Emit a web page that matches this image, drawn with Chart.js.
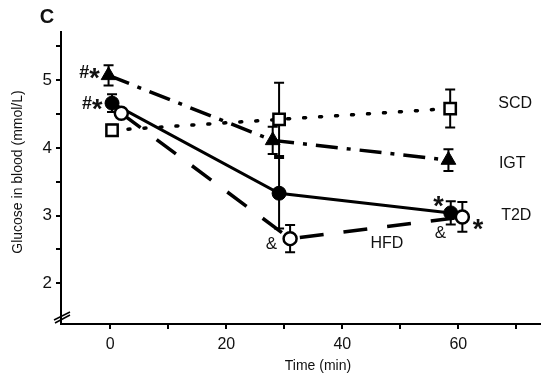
<!DOCTYPE html>
<html>
  <script src="https://cdn.jsdelivr.net/npm/chart.js@4.4.0/dist/chart.umd.min.js"></script>
  <style>
    body { margin: 0; background: #fff; }
    #wrap { width: 550px; height: 381px; }
  </style>
  <body>
    <div id="wrap"><canvas id="myChart"></canvas></div>

    <script>
      // values (time in min, glucose in mmol/L)
      let igtX = [-0.3, 28, 58.3];
      let igtY = [5.07, 4.11, 3.82];
      let igtErr = [0.15, 0.2, 0.16];

      let scdX = [0.3, 29.1, 58.6];
      let scdY = [4.26, 4.42, 4.58];
      let scdErr = [0.08, 0.54, 0.28];

      let t2dX = [0.3, 29.1, 58.7];
      let t2dY = [4.66, 3.33, 3.04];
      let t2dErr = [0.13, 0.52, 0.17];

      let hfdX = [1.9, 31, 60.7];
      let hfdY = [4.51, 2.66, 2.98];
      let hfdErr = [0.06, 0.2, 0.22];

      let xTicks = [0, 10, 20, 30, 40, 50, 60, 70];
      let yTicks = [2, 2.5, 3, 3.5, 4, 4.5, 5, 5.5];

      // group names at the right / signif. marks
      let labelText = ["SCD", "IGT", "T2D", "HFD"];
      let labelX = [69.8, 69.3, 70, 47.7];
      let labelY = [4.65, 3.77, 3.0, 2.59];

      let markText = ["#*", "#*", "&", "*", "&", "*"];
      let markX = [-3.6, -3.1, 27.8, 56.6, 56.9, 63.4];
      let markY = [5.12, 4.66, 2.59, 3.23, 2.76, 2.89];

      const FONT = "'Liberation Sans', Arial, sans-serif";

      function pts(xs, ys) {
        return xs.map((x, i) => ({ x: x, y: ys[i] }));
      }

      let errSets = [
        { x: hfdX, y: hfdY, e: hfdErr },
        { x: t2dX, y: t2dY, e: t2dErr },
        { x: igtX, y: igtY, e: igtErr },
        { x: scdX, y: scdY, e: scdErr },
      ];

      const errorBars = {
        id: "errorBars",
        beforeDatasetsDraw(chart) {
          const ctx = chart.ctx;
          const xs = chart.scales.x, ys = chart.scales.y;
          ctx.save();
          ctx.strokeStyle = "#000";
          ctx.lineWidth = 2;
          errSets.forEach((s) => {
            for (let i = 0; i < s.x.length; i++) {
              let px = xs.getPixelForValue(s.x[i]);
              let top = ys.getPixelForValue(s.y[i] + s.e[i]);
              let bot = ys.getPixelForValue(s.y[i] - s.e[i]);
              ctx.beginPath();
              ctx.moveTo(px, top); ctx.lineTo(px, bot);
              ctx.moveTo(px - 5, top); ctx.lineTo(px + 5, top);
              ctx.moveTo(px - 5, bot); ctx.lineTo(px + 5, bot);
              ctx.stroke();
            }
          });
          ctx.restore();
        },
      };

      // draws a mark; '*' gets a bigger bold glyph dropped onto the middle line
      function drawMark(ctx, text, cx, cy) {
        let parts = text.split("").map((c) => {
          let f = c === "*" ? "bold 27px " + FONT : (c === "#" ? "bold 18px " + FONT : "17px " + FONT);
          ctx.font = f;
          return { c: c, f: f, w: ctx.measureText(c).width };
        });
        let total = parts.reduce((a, p) => a + p.w, 0);
        let x = cx - total / 2;
        ctx.textAlign = "left";
        ctx.textBaseline = "alphabetic";
        parts.forEach((p) => {
          ctx.font = p.f;
          let base = p.c === "*" ? cy + 15 : cy + 6;
          ctx.fillText(p.c, x, base);
          x += p.w;
        });
      }

      const extras = {
        id: "extras",
        afterDraw(chart) {
          const ctx = chart.ctx;
          const xs = chart.scales.x, ys = chart.scales.y;
          const area = chart.chartArea;
          ctx.save();
          ctx.fillStyle = "#111";
          ctx.textAlign = "center";
          ctx.textBaseline = "middle";

          ctx.font = "16px " + FONT;
          for (let i = 0; i < labelText.length; i++) {
            ctx.fillText(labelText[i], xs.getPixelForValue(labelX[i]), ys.getPixelForValue(labelY[i]));
          }
          for (let i = 0; i < markText.length; i++) {
            drawMark(ctx, markText[i], xs.getPixelForValue(markX[i]), ys.getPixelForValue(markY[i]));
          }

          // panel letter
          ctx.textAlign = "center";
          ctx.textBaseline = "middle";
          ctx.font = "bold 20px " + FONT;
          ctx.fillText("C", 47, 17);

          // axis titles
          ctx.font = "14px " + FONT;
          ctx.fillText("Time (min)", 318, 366);
          ctx.save();
          ctx.translate(18, 172);
          ctx.rotate(-Math.PI / 2);
          ctx.fillText("Glucose in blood (mmol/L)", 0, 0);
          ctx.restore();

          // axis break
          ctx.strokeStyle = "#000";
          ctx.lineWidth = 1.5;
          let l = area.left, b = area.bottom;
          ctx.beginPath();
          ctx.moveTo(l - 7, b - 4); ctx.lineTo(l + 9, b - 12);
          ctx.moveTo(l - 6, b - 1); ctx.lineTo(l + 9, b - 9);
          ctx.stroke();
          ctx.restore();
        },
      };

      new Chart(document.getElementById("myChart"), {
        type: "scatter",
        data: {
          datasets: [
            {
              label: "HFD",
              data: pts(hfdX, hfdY),
              showLine: true,
              borderColor: "#000",
              borderWidth: 3.5,
              borderDash: [24, 20],
              pointStyle: "circle",
              pointRadius: 6.5,
              pointBorderWidth: 2.5,
              pointBackgroundColor: "#fff",
              pointBorderColor: "#000",
            },
            {
              label: "T2D",
              data: pts(t2dX, t2dY),
              showLine: true,
              borderColor: "#000",
              borderWidth: 3,
              pointStyle: "circle",
              pointRadius: 7,
              pointBorderWidth: 1,
              pointBackgroundColor: "#000",
              pointBorderColor: "#000",
            },
            {
              label: "IGT",
              data: pts(igtX, igtY),
              showLine: true,
              borderColor: "#000",
              borderWidth: 3.5,
              borderDash: [22, 9, 4, 9],
              pointStyle: "triangle",
              pointRadius: 8.5,
              pointBorderWidth: 1,
              pointBackgroundColor: "#000",
              pointBorderColor: "#000",
            },
            {
              label: "SCD",
              data: pts(scdX, scdY),
              showLine: true,
              borderColor: "#000",
              borderWidth: 3.5,
              borderDash: [2, 14],
              borderCapStyle: "round",
              pointStyle: "rect",
              pointRadius: 8,
              pointBorderWidth: 2.5,
              pointBackgroundColor: "#fff",
              pointBorderColor: "#000",
            },
          ],
        },
        options: {
          responsive: true,
          maintainAspectRatio: false,
          animation: false,
          layout: { padding: { top: 32, right: 10, left: 0, bottom: 0 } },
          plugins: {
            legend: { display: false },
            tooltip: { enabled: false },
          },
          scales: {
            x: {
              type: "linear",
              min: -8.5,
              max: 74,
              afterFit: (s) => { s.height = 57; },
              afterBuildTicks: (s) => { s.ticks = xTicks.map((v) => ({ value: v })); },
              grid: { drawOnChartArea: false, tickLength: 5, color: "#000", lineWidth: 2 },
              border: { color: "#000", width: 2 },
              ticks: {
                padding: 6,
                color: "#111",
                font: { family: FONT, size: 16 },
                maxRotation: 0,
                callback: (v) => (v % 20 === 0 ? v : ""),
              },
            },
            y: {
              type: "linear",
              min: 1.4,
              max: 5.71,
              afterFit: (s) => { s.width = 61; },
              afterBuildTicks: (s) => { s.ticks = yTicks.map((v) => ({ value: v })); },
              grid: { drawOnChartArea: false, tickLength: 5, color: "#000", lineWidth: 2 },
              border: { color: "#000", width: 2 },
              ticks: {
                padding: 4,
                color: "#111",
                font: { family: FONT, size: 17 },
                callback: (v) => (v % 1 === 0 ? v : ""),
              },
            },
          },
        },
        plugins: [errorBars, extras],
      });
    </script>
  </body>
</html>
